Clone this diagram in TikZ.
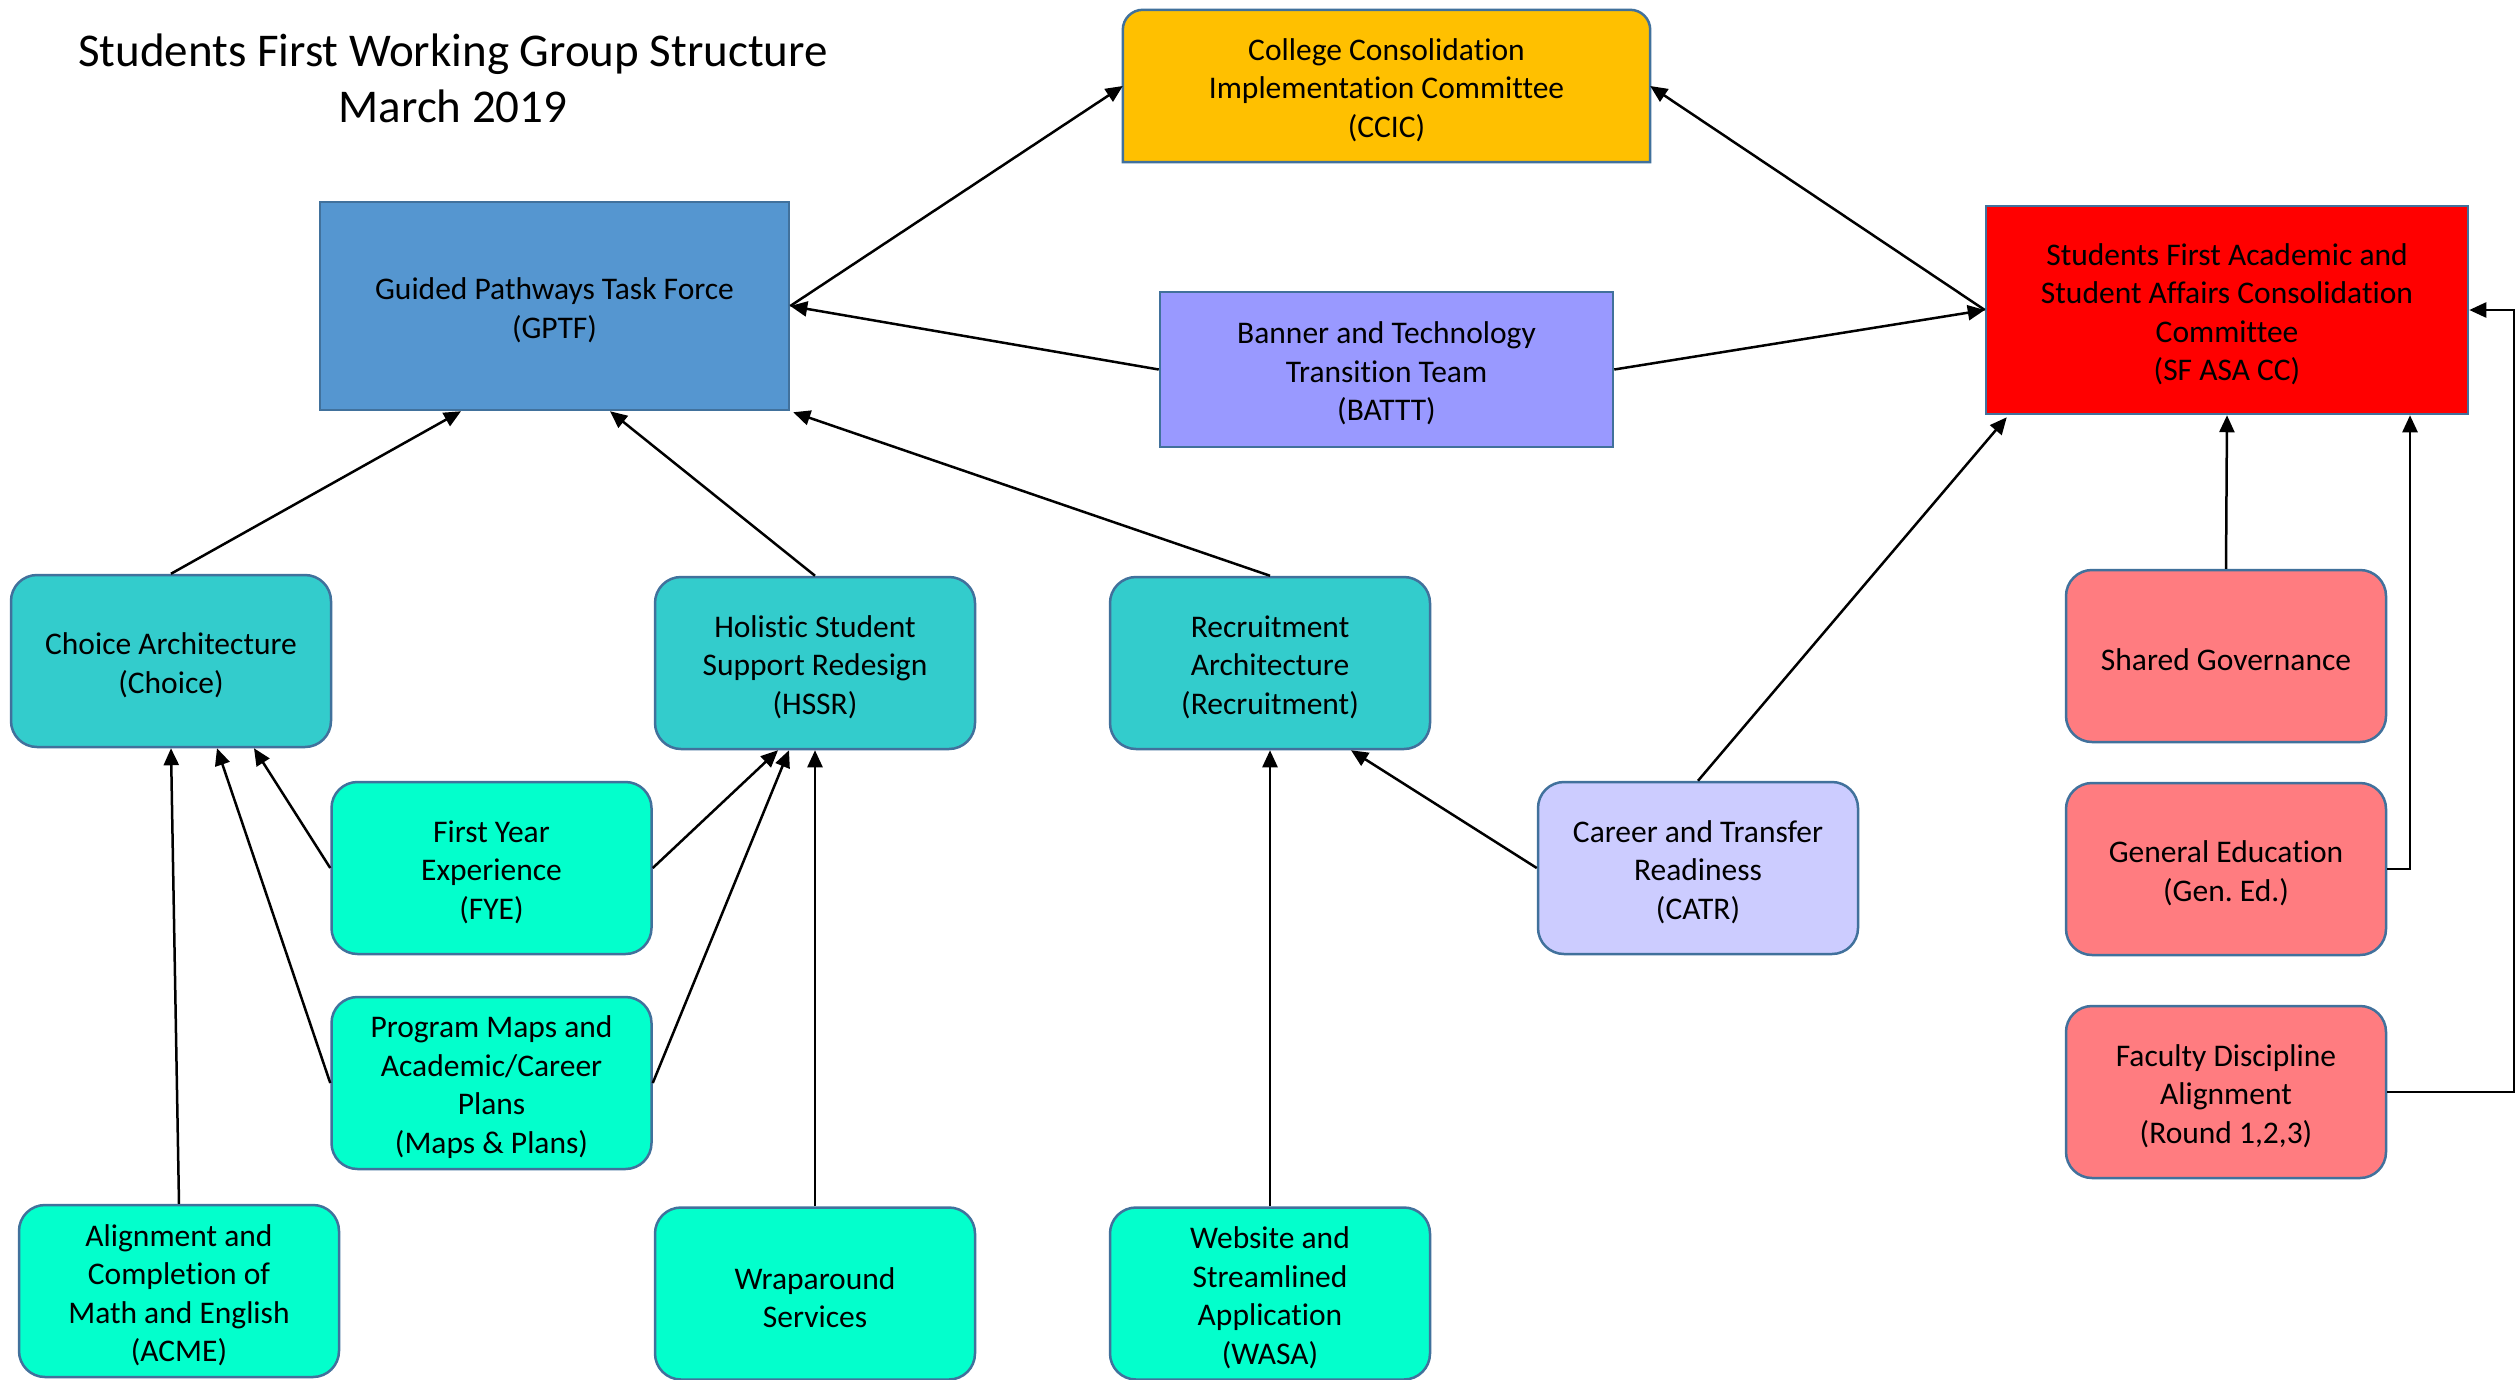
\documentclass[tikz,border=0pt]{standalone}
\usepackage{fontspec}
\setmainfont[Ligatures=NoCommon]{Carlito}
\frenchspacing
\usetikzlibrary{arrows.meta,backgrounds,calc}

\definecolor{edgeblue}{HTML}{41719C}
\definecolor{ccicc}{HTML}{FFC000}
\definecolor{gptfc}{HTML}{5596D0}
\definecolor{batttc}{HTML}{9999FF}
\definecolor{sfc}{HTML}{FF0000}
\definecolor{teal}{HTML}{33CCCC}
\definecolor{aqua}{HTML}{03FFCC}
\definecolor{lilac}{HTML}{CCCCFF}
\definecolor{pink}{HTML}{FF7C80}

\tikzset{
  boxtext/.style={align=center, font=\fontsize{31.5}{38.5}\selectfont, text=black, inner sep=0pt},
  txt/.style={label={[boxtext, yshift=-4pt]center:{#1}}},
  sqbox/.style={rectangle, draw=edgeblue, line width=2.5pt, inner sep=0pt},
  rbox/.style={rectangle, rounded corners=26pt, draw=edgeblue, line width=2.5pt, inner sep=0pt,
               minimum width=320pt, minimum height=172pt},
  link/.style={draw=black, line width=2.5pt, -{Triangle[length=17pt,width=15pt]}},
}

\begin{document}
\begin{tikzpicture}[x=1pt,y=-1pt]
\useasboundingbox (0,0) rectangle (2519,1379);

% title
\node[align=center, font=\fontsize{47}{56}\selectfont, inner sep=0pt] (title) at (453,78)
  {Students First Working Group Structure\\March 2019};

% committees
\node[inner sep=0pt, minimum width=527pt, minimum height=152pt,
      txt={College Consolidation\\Implementation Committee\\(CCIC)}] (ccic) at (1386.5,86) {};
\node[sqbox, fill=gptfc, minimum width=469pt, minimum height=208pt,
      txt={Guided Pathways Task Force\\(GPTF)}] (gptf) at (554.5,306) {};
\node[sqbox, fill=batttc, minimum width=453pt, minimum height=155pt,
      txt={Banner and Technology\\Transition Team\\(BATTT)}] (battt) at (1386.5,369.5) {};
\node[sqbox, fill=sfc, minimum width=482pt, minimum height=208pt,
      txt={Students First Academic and\\Student Affairs Consolidation\\Committee\\(SF ASA CC)}] (sf) at (2227,310) {};

% page ground and the CCIC box (top corners rounded, bottom corners square)
\begin{pgfonlayer}{background}
\fill[white] (0,0) rectangle (2519,1379);
\draw[edgeblue, line width=2.5pt, fill=ccicc]
  (ccic.south west) -- ([yshift=-20pt]ccic.north west)
  arc[start angle=180, end angle=90, radius=20pt]
  -- ([xshift=-20pt]ccic.north east)
  arc[start angle=90, end angle=0, radius=20pt]
  -- (ccic.south east) -- cycle;
\end{pgfonlayer}

% working groups
\node[rbox, fill=teal, txt={Choice Architecture\\(Choice)}] (choice) at (171,661) {};
\node[rbox, fill=teal, txt={Holistic Student\\Support Redesign\\(HSSR)}] (hssr) at (815,663) {};
\node[rbox, fill=teal, txt={Recruitment\\Architecture\\(Recruitment)}] (recr) at (1270,663) {};

\node[rbox, fill=aqua, txt={First Year\\Experience\\(FYE)}] (fye) at (491.5,868) {};
\node[rbox, fill=aqua, txt={Program Maps and\\Academic/Career\\Plans\\(Maps \& Plans)}] (maps) at (491.5,1083) {};
\node[rbox, fill=aqua, txt={Alignment and\\Completion of\\Math and English\\(ACME)}] (acme) at (179,1291) {};
\node[rbox, fill=aqua, txt={Wraparound\\Services}] (wrap) at (815,1293.5) {};
\node[rbox, fill=aqua, txt={Website and\\Streamlined\\Application\\(WASA)}] (wasa) at (1270,1293.5) {};

\node[rbox, fill=lilac, txt={Career and Transfer\\Readiness\\(CATR)}] (catr) at (1698,868) {};

\node[rbox, fill=pink, txt={Shared Governance}] (shared) at (2226,656) {};
\node[rbox, fill=pink, txt={General Education\\(Gen. Ed.)}] (gened) at (2226,869) {};
\node[rbox, fill=pink, txt={Faculty Discipline\\Alignment\\(Round 1,2,3)}] (faculty) at (2226,1092) {};

% top-level links
\draw[link] (gptf.east) -- (ccic.west);
\draw[link] (sf.west) -- (ccic.east);
\draw[link] (battt.west) -- (gptf.east);
\draw[link] (battt.east) -- (sf.west);

% into GPTF
\draw[link] (choice.north) -- ([xshift=-93.5pt]gptf.south);
\draw[link] (hssr.north) -- ([xshift=55.5pt]gptf.south);
\draw[link] (recr.north) -- ([xshift=3pt,yshift=-1pt]gptf.south east);

% into Choice
\draw[link] (fye.west) -- ([xshift=83pt]choice.south);
\draw[link] (maps.west) -- ([xshift=46pt]choice.south);
\draw[link] (acme.north) -- (choice.south);

% into HSSR
\draw[link] (fye.east) -- ([xshift=-37pt]hssr.south);
\draw[link] (maps.east) -- ([xshift=-26pt]hssr.south);
\draw[link] (wrap.north) -- (hssr.south);

% into Recruitment
\draw[link] (wasa.north) -- (recr.south);
\draw[link] (catr.west) -- ([xshift=81pt]recr.south);

% into SF ASA CC
\draw[link] (catr.north) -- ([xshift=22pt,yshift=-2pt]sf.south west);
\draw[link] (shared.north) -- (sf.south);
\coordinate (gedturn) at (2410,869);
\draw[link] (gened.east) -- (gedturn) -- (gedturn |- sf.south);
\coordinate (facturn) at (2514,1092);
\draw[link] (faculty.east) -- (facturn) -- (facturn |- sf.east) -- (sf.east);
\end{tikzpicture}
\end{document}
